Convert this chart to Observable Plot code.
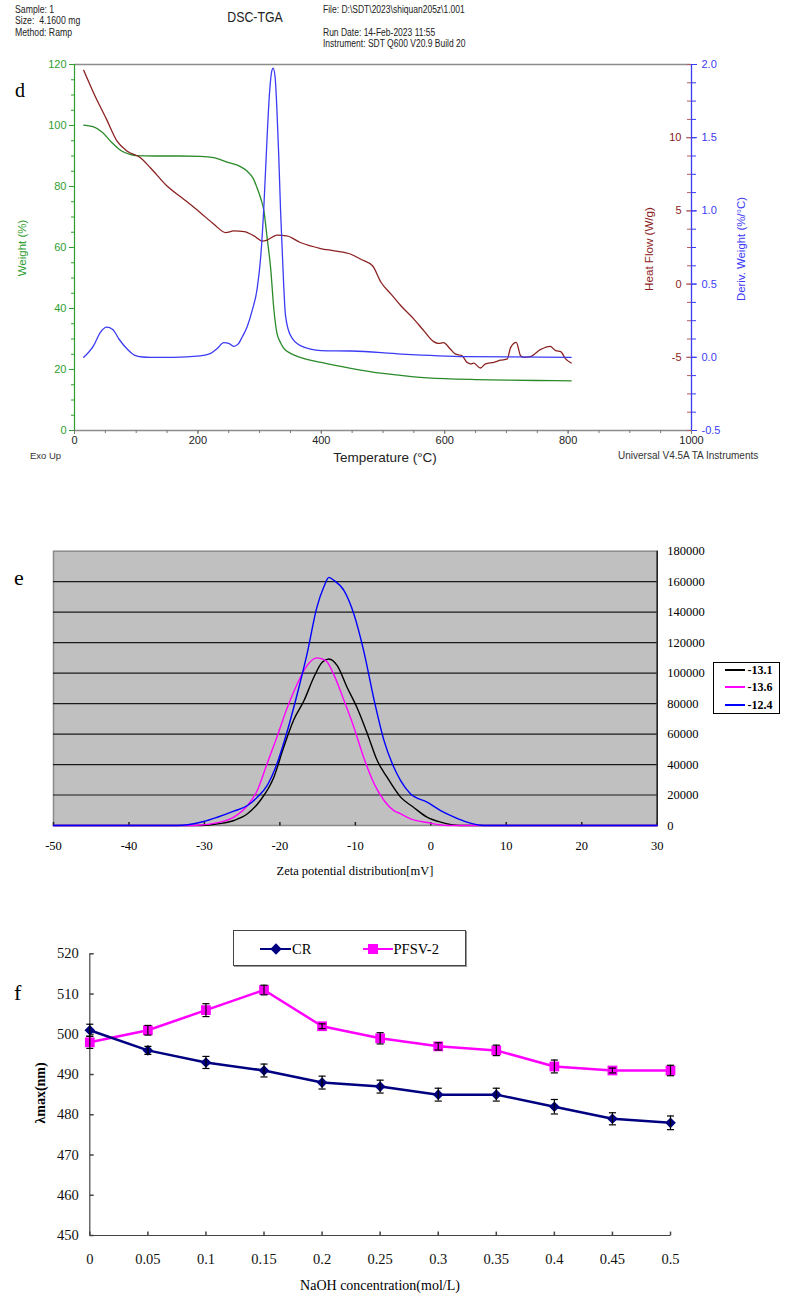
<!DOCTYPE html>
<html><head><meta charset="utf-8">
<script src="https://cdn.jsdelivr.net/npm/d3@7"></script>
<script src="https://cdn.jsdelivr.net/npm/@observablehq/plot@0.6"></script>
<style>
body{margin:0;background:#fff;}
#root{position:relative;width:785px;height:1299px;overflow:hidden;background:#fff;}
</style></head><body><div id="root"></div>
<script>
// ---------- Panel d : DSC-TGA ----------
const tempTicks = [0, 200, 400, 600, 800, 1000];
const tempMinorTicks = d3.range(0, 1001, 50);
const weightTicks = [0, 20, 40, 60, 80, 100, 120];
const weightMinorTicks = d3.range(0, 121, 5);
const heatTicks = [-5, 0, 5, 10];
const heatMinorTicks = d3.range(-10, 15.001, 1.25);
const derivTicks = [-0.5, 0, 0.5, 1.0, 1.5, 2.0];
const derivMinorTicks = d3.range(-0.5, 2.0001, 0.125);

const weightTemp = [15, 30, 45, 60, 75, 90, 100, 130, 170, 204, 226, 247, 269, 280, 290, 296, 302, 307, 312, 318, 323, 328, 334, 339, 350, 366, 400, 450, 500, 550, 600, 650, 700, 750, 805];
const weightPct = [100.1, 99.6, 97.8, 94.5, 91.8, 90.5, 90.1, 90.0, 90.0, 89.9, 89.5, 88.0, 86.5, 85.0, 82.5, 79.5, 76.0, 72.0, 63.5, 53.0, 40.0, 32.0, 28.8, 27.0, 25.3, 24.0, 22.3, 20.3, 18.7, 17.6, 17.0, 16.7, 16.5, 16.4, 16.3];

const derivTemp = [15, 31, 42, 52, 62, 72, 85, 97, 110, 123, 160, 204, 220, 231, 242, 250, 258, 265, 272, 280, 288, 296, 302, 307, 312, 316, 320, 322, 325, 328, 331, 334, 337, 342, 350, 366, 400, 450, 530, 636, 805];
const derivVal = [0.0, 0.08, 0.17, 0.206, 0.19, 0.125, 0.058, 0.015, 0.002, 0.0, 0.0, 0.01, 0.025, 0.058, 0.10, 0.095, 0.075, 0.09, 0.14, 0.21, 0.32, 0.468, 0.695, 1.037, 1.49, 1.80, 1.96, 1.975, 1.92, 1.70, 1.38, 1.0, 0.695, 0.285, 0.15, 0.08, 0.046, 0.043, 0.022, 0.005, 0.0];

const heatTemp = [15, 31, 52, 69, 85, 107, 123, 150, 177, 204, 226, 245, 258, 275, 291, 305, 312, 328, 344, 366, 399, 421, 448, 464, 483, 497, 513, 529, 550, 566, 582, 590, 598, 609, 617, 628, 636, 642, 647, 658, 666, 680, 690, 701, 707, 716, 723, 728, 739, 755, 771, 780, 788, 796, 805];
const heatVal = [14.6, 13.06, 11.25, 9.77, 9.09, 8.63, 7.95, 6.7, 5.8, 4.88, 4.09, 3.52, 3.63, 3.59, 3.29, 2.93, 3.0, 3.34, 3.29, 2.84, 2.43, 2.27, 2.04, 1.7, 1.25, 0.11, -0.68, -1.48, -2.39, -3.18, -3.93, -4.05, -4.0, -4.43, -4.77, -4.89, -5.34, -5.45, -5.4, -5.73, -5.45, -5.34, -5.2, -5.13, -4.32, -3.98, -4.89, -5.0, -4.95, -4.48, -4.25, -4.55, -4.61, -5.11, -5.39];

// ---------- Panel e : Zeta potential ----------
const zetaXTicks = [-50, -40, -30, -20, -10, 0, 10, 20, 30];
const zetaYTicks = [0, 20000, 40000, 60000, 80000, 100000, 120000, 140000, 160000, 180000];
const zetaGrid = [20000, 40000, 60000, 80000, 100000, 120000, 140000, 160000];
const zetaSeries = ["-13.1", "-13.6", "-12.4"];
const blackX = [-50, -30.5, -28, -26.1, -24.3, -22.6, -20.8, -19.5, -18.2, -16.8, -15.5, -14.4, -13.5, -12.4, -11.1, -9.8, -8.4, -7.1, -5.8, -4.0, -2.3, -0.5, 1.3, 3.9, 30];
const blackY = [0, 0, 1200, 3300, 7700, 16400, 31700, 51300, 68900, 82000, 97300, 107100, 109300, 104900, 90700, 77600, 60100, 42600, 31700, 18600, 12000, 5500, 2200, 0, 0];
const magentaX = [-50, -31.4, -27.9, -26.1, -24.3, -23.0, -21.7, -20.4, -19.0, -17.7, -16.4, -15.1, -13.9, -12.9, -11.5, -10.2, -8.9, -7.5, -6.2, -4.9, -4.0, -2.7, -0.5, 2.2, 30];
const magentaY = [0, 0, 2200, 5500, 13100, 23000, 40500, 57900, 77600, 92900, 104900, 110000, 108200, 99500, 82000, 64500, 44800, 27300, 16400, 9800, 7700, 4400, 2000, 0, 0];
const blueX = [-50, -33.6, -30.1, -28.3, -26.1, -24.3, -23.0, -21.7, -20.4, -19.0, -17.7, -16.4, -15.1, -14.2, -13.5, -12.9, -11.5, -10.2, -8.9, -7.5, -6.2, -4.9, -4.0, -2.7, -0.5, 1.3, 3.1, 4.8, 7.0, 30];
const blueY = [0, 0, 2600, 5400, 9400, 13100, 18600, 26200, 40400, 62300, 86300, 112600, 143100, 156300, 162800, 161100, 154100, 138800, 114800, 82000, 55700, 38200, 29500, 20800, 15300, 9800, 5500, 2200, 0, 0];

// ---------- Panel f : lambda max ----------
const naoh = [0, 0.05, 0.1, 0.15, 0.2, 0.25, 0.3, 0.35, 0.4, 0.45, 0.5];
const lambdaTicks = [450, 460, 470, 480, 490, 500, 510, 520];
const crVal = [501, 496, 493, 491, 488, 487, 485, 485, 482, 479, 478];
const crErr = [1.5, 1.0, 1.5, 1.6, 1.6, 1.6, 1.6, 1.6, 1.8, 1.5, 1.7];
const pfsvVal = [498, 501, 506, 511, 502, 499, 497, 496, 492, 491, 491];
const pfsvErr = [1.5, 1.2, 1.6, 1.2, 0.6, 1.4, 0.9, 1.3, 1.6, 0.6, 1.3];

// ---------- helpers ----------
const root = document.getElementById("root");
const SANS = "'Liberation Sans', Arial, sans-serif";
const SERIF = "'Liberation Serif', 'Times New Roman', serif";
function addSvg(svg, top) {
  svg.style.position = "absolute"; svg.style.left = "0px"; svg.style.top = top + "px";
  svg.style.maxWidth = "none";
  root.appendChild(svg);
}
function txt(s, x, y, o = {}) {
  const d = document.createElement("div");
  d.textContent = s;
  Object.assign(d.style, {position: "absolute", left: x + "px", top: y + "px", whiteSpace: "pre", lineHeight: "1",
    fontFamily: o.font || SANS, fontSize: (o.size || 11) + "px", color: o.color || "#000", fontWeight: o.bold ? "bold" : "normal"});
  let t = o.center ? "translate(-50%,-50%)" : "translate(0,-50%)";
  if (o.rotate) t += " rotate(-90deg)";
  if (o.sx) t += " scaleX(" + o.sx + ")";
  d.style.transform = t;
  d.style.transformOrigin = o.center ? "50% 50%" : "0 50%";
  root.appendChild(d);
}
function rect(x, y, w, h, css) {
  const d = document.createElement("div");
  Object.assign(d.style, {position: "absolute", left: x + "px", top: y + "px", width: w + "px", height: h + "px", boxSizing: "border-box"}, css);
  root.appendChild(d);
  return d;
}
const tickUp = {draw(ctx, size) { const l = Math.sqrt(size); ctx.moveTo(0, 0); ctx.lineTo(0, -l); }};
const tickRight = {draw(ctx, size) { const l = Math.sqrt(size); ctx.moveTo(0, 0); ctx.lineTo(l, 0); }};
const capH = {draw(ctx, size) { const l = Math.sqrt(size); ctx.moveTo(-l, 0); ctx.lineTo(l, 0); }};

// ---------- Panel d plots ----------
const green = "#2f9e2f", greenLine = "#2a8a2a", dred = "#8b2222", blue = "#3b3bf5";
const dDims = {width: 785, height: 470, marginTop: 64, marginBottom: 40, marginLeft: 74, marginRight: 94};
const sty = (f, s) => ({background: "transparent", fontFamily: f, fontSize: s + "px", overflow: "visible"});

const weightRows = weightTemp.map((t, i) => ({t, v: weightPct[i]}));
const heatRows = heatTemp.map((t, i) => ({t, v: heatVal[i]}));
const derivRows = derivTemp.map((t, i) => ({t, v: derivVal[i]}));

addSvg(Plot.plot({
  ...dDims, style: sty(SANS, 11),
  x: {domain: [0, 1000], axis: null}, y: {domain: [0, 120], axis: null},
  marks: [
    Plot.ruleY([120], {stroke: "#8c8c8c", strokeWidth: 1.3}),
    Plot.ruleY([0], {stroke: "#8c8c8c", strokeWidth: 1.3}),
    Plot.axisX({ticks: tempMinorTicks, tickSize: 3, tickFormat: () => "", stroke: "#777", label: null}),
    Plot.axisX({ticks: tempTicks, tickSize: 4, tickPadding: 2, tickFormat: d => String(d), stroke: "#777", fill: "#222", label: null, fontSize: 11}),
    Plot.ruleX([0], {stroke: green, strokeWidth: 1.2}),
    Plot.axisY({ticks: weightMinorTicks, tickSize: 3, tickFormat: () => "", stroke: green, label: null}),
    Plot.axisY({ticks: weightTicks, tickSize: 5, tickPadding: 3, tickFormat: d => String(d), stroke: green, fill: green, label: null, fontSize: 11}),
    Plot.line(weightRows, {x: "t", y: "v", stroke: greenLine, strokeWidth: 1.3, curve: "monotone-x"})
  ]
}), 0);

addSvg(Plot.plot({
  ...dDims, style: sty(SANS, 11),
  x: {domain: [0, 1000], axis: null}, y: {domain: [-10, 15], axis: null},
  marks: [Plot.line(heatRows, {x: "t", y: "v", stroke: dred, strokeWidth: 1.3, curve: "monotone-x"})]
}), 0);

addSvg(Plot.plot({
  width: 785, height: 470, marginTop: 64, marginBottom: 40, marginLeft: 691, marginRight: 93,
  style: sty(SANS, 11),
  y: {domain: [-10, 15], axis: null},
  marks: [
    Plot.axisY({anchor: "left", ticks: heatMinorTicks, tickSize: 4, tickFormat: () => "", stroke: "#b06060", label: null}),
    Plot.axisY({anchor: "left", ticks: heatTicks, tickSize: 5, tickPadding: 5, tickFormat: d => String(d), stroke: "#b06060", fill: dred, label: null, fontSize: 11})
  ]
}), 0);

addSvg(Plot.plot({
  ...dDims, style: sty(SANS, 11),
  x: {domain: [0, 1000], axis: null}, y: {domain: [-0.5, 2.0], axis: null},
  marks: [
    Plot.ruleX([1000], {stroke: blue, strokeWidth: 1.3}),
    Plot.axisY({anchor: "right", ticks: derivMinorTicks, tickSize: 4, tickFormat: () => "", stroke: blue, label: null}),
    Plot.axisY({anchor: "right", ticks: derivTicks, tickSize: 5, tickPadding: 5, tickFormat: d => d.toFixed(1), stroke: blue, fill: blue, label: null, fontSize: 11}),
    Plot.line(derivRows, {x: "t", y: "v", stroke: blue, strokeWidth: 1.3, curve: "monotone-x"})
  ]
}), 0);

// header & titles panel d
txt("Sample: 1", 15, 10, {size: 10, color: "#222", sx: 0.87});
txt("Size:  4.1600 mg", 15, 21.3, {size: 10, color: "#222", sx: 0.87});
txt("Method: Ramp", 15, 33, {size: 10, color: "#222", sx: 0.87});
txt("DSC-TGA", 254.7, 16.7, {size: 14.5, color: "#222", center: true, sx: 0.85});
txt("File: D:\\SDT\\2023\\shiquan205z\\1.001", 323, 10, {size: 10, color: "#222", sx: 0.85});
txt("Run Date: 14-Feb-2023 11:55", 323, 33, {size: 10, color: "#222", sx: 0.85});
txt("Instrument: SDT Q600 V20.9 Build 20", 323, 44.2, {size: 10, color: "#222", sx: 0.85});
txt("d", 15, 90.3, {font: SERIF, size: 20});
txt("Weight (%)", 23, 248, {size: 11.5, color: green, center: true, rotate: true});
txt("Heat Flow (W/g)", 649, 249, {size: 11.6, color: dred, center: true, rotate: true});
txt("Deriv. Weight (%/°C)", 741.5, 249, {size: 11.4, color: blue, center: true, rotate: true});
txt("Exo Up", 30, 455.8, {size: 9.5, color: "#333"});
txt("Temperature (°C)", 385, 458.3, {size: 13.5, color: "#222", center: true});
txt("Universal V4.5A TA Instruments", 618, 455.8, {size: 10, color: "#333"});

// ---------- Panel e ----------
const zeta = [
  {name: zetaSeries[0], xs: blackX, ys: blackY, color: "#000000"},
  {name: zetaSeries[1], xs: magentaX, ys: magentaY, color: "#ff00ff"},
  {name: zetaSeries[2], xs: blueX, ys: blueY, color: "#0000ff"}
];
addSvg(Plot.plot({
  width: 785, height: 360, marginTop: 20.7, marginBottom: 65, marginLeft: 53, marginRight: 128.3,
  style: sty(SERIF, 12.5),
  x: {domain: [-50, 30], axis: null}, y: {domain: [0, 180000], axis: null},
  marks: [
    Plot.frame({fill: "#c0c0c0", stroke: "#8a8a8a", strokeWidth: 1.5}),
    Plot.ruleY(zetaGrid, {stroke: "#1a1a1a", strokeWidth: 1.2}),
    Plot.ruleX([30], {stroke: "#222", strokeWidth: 1.5}),
    Plot.axisY({anchor: "right", ticks: zetaYTicks, tickSize: 0, tickPadding: 10, tickFormat: d => String(d), fill: "#000", label: null}),
    Plot.axisX({ticks: zetaXTicks, tickSize: 0, tickPadding: 15.3, tickFormat: d => String(d), fill: "#000", label: null}),
    Plot.dot(zetaXTicks, {x: d => d, frameAnchor: "bottom", symbol: tickUp, r: 2, stroke: "#222", fill: "none"}),
    ...zeta.map(s => Plot.line(s.xs.map((x, i) => ({x, y: s.ys[i]})), {x: "x", y: "y", stroke: s.color, strokeWidth: 1.4, curve: "monotone-x"}))
  ]
}), 530);
txt("e", 14, 578.4, {font: SERIF, size: 22});
txt("Zeta potential distribution[mV]", 355, 870.5, {font: SERIF, size: 12.5, center: true});
rect(713, 662, 67, 52, {border: "1px solid #000", background: "#fff"});
[670, 687, 705].forEach((cy, i) => {
  rect(725, cy - 1, 20, 2, {background: zeta[i].color});
  txt(zeta[i].name, 747.5, cy, {font: SERIF, size: 12, bold: true});
});

// ---------- Panel f ----------
const navy = "#000080", mag = "#ff00ff";
const crRows = naoh.map((x, i) => ({x, y: crVal[i], lo: crVal[i] - crErr[i], hi: crVal[i] + crErr[i]}));
const pfRows = naoh.map((x, i) => ({x, y: pfsvVal[i], lo: pfsvVal[i] - pfsvErr[i], hi: pfsvVal[i] + pfsvErr[i]}));
const errMarks = rows => [
  Plot.ruleX(rows, {x: "x", y1: "lo", y2: "hi", stroke: "#000", strokeWidth: 1.2}),
  Plot.dot(rows, {x: "x", y: "lo", symbol: capH, r: 2, stroke: "#000", fill: "none", strokeWidth: 1.2}),
  Plot.dot(rows, {x: "x", y: "hi", symbol: capH, r: 2, stroke: "#000", fill: "none", strokeWidth: 1.2})
];
addSvg(Plot.plot({
  width: 785, height: 379, marginTop: 33.3, marginBottom: 64, marginLeft: 89.3, marginRight: 115,
  style: sty(SERIF, 14.5),
  x: {domain: [0, 0.5], axis: null}, y: {domain: [450, 520], axis: null},
  marks: [
    Plot.ruleX([0], {stroke: "#444", strokeWidth: 1.2}),
    Plot.ruleY([450], {stroke: "#444", strokeWidth: 1.2}),
    Plot.axisY({ticks: lambdaTicks, tickSize: 0, tickPadding: 11, fill: "#111", label: null}),
    Plot.axisX({ticks: naoh, tickSize: 0, tickPadding: 18.5, tickFormat: d => String(d), fill: "#111", label: null}),
    Plot.dot(naoh, {x: d => d, frameAnchor: "bottom", symbol: tickUp, r: 2.2, stroke: "#444", fill: "none"}),
    Plot.dot(lambdaTicks, {y: d => d, frameAnchor: "left", symbol: tickRight, r: 2.2, stroke: "#444", fill: "none"}),
    Plot.line(pfRows, {x: "x", y: "y", stroke: mag, strokeWidth: 2.5}),
    Plot.line(crRows, {x: "x", y: "y", stroke: navy, strokeWidth: 2.5}),
    Plot.dot(pfRows, {x: "x", y: "y", symbol: "square", r: 5.5, fill: mag, stroke: "none"}),
    Plot.dot(crRows, {x: "x", y: "y", symbol: "diamond2", r: 4.8, fill: navy, stroke: "none"}),
    ...errMarks(pfRows),
    ...errMarks(crRows)
  ]
}), 920);
txt("f", 14, 992.5, {font: SERIF, size: 22});
txt("λmax(nm)", 41, 1093, {font: SERIF, size: 14, bold: true, center: true, rotate: true});
txt("NaOH concentration(mol/L)", 380, 1285.5, {font: SERIF, size: 14, center: true});
rect(233, 930, 232.7, 35.7, {border: "1px solid #444", background: "#fff", boxShadow: "1px 1px 0 #999"});
rect(260, 947.7, 31, 2.6, {background: navy});
rect(272.2, 944.5, 8, 8, {background: navy, transform: "rotate(45deg)"});
txt("CR", 292, 949, {font: SERIF, size: 14.5});
rect(362.7, 947.7, 30, 2.6, {background: mag});
rect(367.5, 944, 10, 10, {background: mag});
txt("PFSV-2", 393.5, 949, {font: SERIF, size: 14.5});
</script></body></html>
